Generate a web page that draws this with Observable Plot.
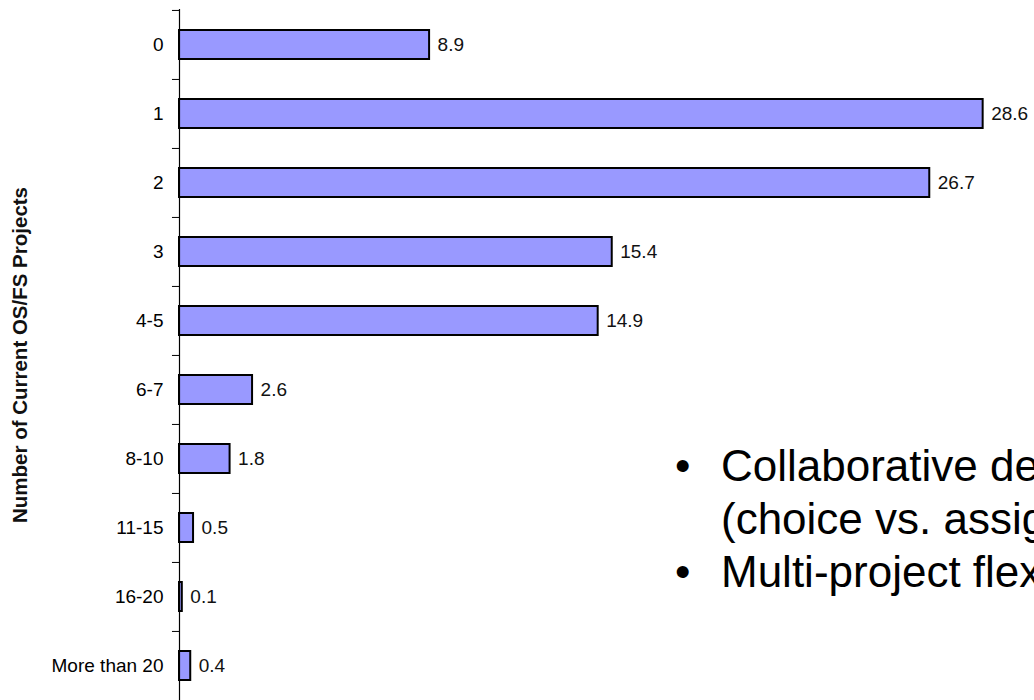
<!DOCTYPE html>
<html><head><meta charset="utf-8">
<script src="https://cdn.jsdelivr.net/npm/d3@7"></script>
<script src="https://cdn.jsdelivr.net/npm/@observablehq/plot@0.6"></script>
<style>
html,body{margin:0;padding:0;background:#fff;overflow:hidden;}
#wrap{position:relative;width:1034px;height:700px;overflow:hidden;font-family:"Liberation Sans",Arial,sans-serif;}
#wrap svg{position:absolute;left:0;top:0;}
#bullets{position:absolute;left:675px;top:439px;white-space:nowrap;font-size:44px;line-height:53px;color:#000;}
.b{position:relative;padding-left:46px;}
.b::before{content:"\2022";position:absolute;left:0;}
</style></head><body><div id="wrap"><div id="bullets"></div></div>
<script>
const categories = ["0","1","2","3","4-5","6-7","8-10","11-15","16-20","More than 20"];
const percents = [8.9,28.6,26.7,15.4,14.9,2.6,1.8,0.5,0.1,0.4];
const yTitle = "Number of Current OS/FS Projects";
const bulletLines = [["Collaborative development","(choice vs. assignment)"],["Multi-project flexibility"]];

const data = categories.map((c,i)=>({category:c, value:percents[i]}));
const font = "Liberation Sans, Arial, sans-serif";
const chart = Plot.plot({
  width:1034, height:700, marginLeft:179, marginRight:12, marginTop:9, marginBottom:0,
  style:{fontFamily:font, fontSize:"19px", background:"transparent", color:"black"},
  x:{domain:[0,30], axis:null},
  y:{domain:categories, paddingInner:0.58, paddingOuter:0.29, axis:null},
  marks:[
    Plot.axisY({tickSize:0, tickPadding:16, label:null, fontSize:19}),
    Plot.barX(data,{x:"value", y:"category", fill:"#9999ff", stroke:"black", strokeWidth:2}),
    Plot.text(data,{x:"value", y:"category", text:d=>d.value.toFixed(1), dx:8, textAnchor:"start", fontSize:19, fill:"#111"}),
    Plot.ruleX([0],{stroke:"black", strokeWidth:1.2}),
    Plot.ruleY(categories,{y:d=>d, x1:-0.25, x2:0, dy:-34.55, stroke:"black"}),
    Plot.text([yTitle],{frameAnchor:"left", textAnchor:"middle", dx:-159, rotate:-90, fontSize:20.5, fontWeight:"bold", fill:"#111"})
  ]
});
const wrap = document.getElementById("wrap");
wrap.insertBefore(chart, wrap.firstChild);
const b = document.getElementById("bullets");
bulletLines.forEach(lines=>{
  const d = document.createElement("div");
  d.className = "b";
  d.innerHTML = lines.map(l=>l.replace(/&/g,"&amp;")).join("<br>");
  b.appendChild(d);
});
</script></body></html>
